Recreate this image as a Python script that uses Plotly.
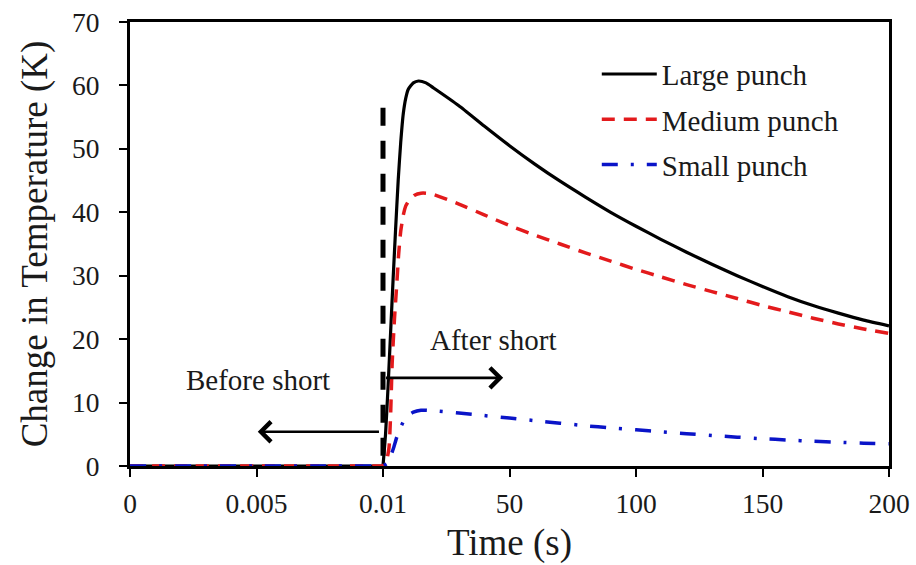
import plotly.graph_objects as go

# ---------------- data ----------------
# Before the short (time in s, 0 .. 0.01)
before_time = [0, 0.0025, 0.005, 0.0075, 0.01]
before_large = [0, 0, 0, 0, 0]
before_medium = [0, 0, 0, 0, 0]
before_small = [0, 0, 0, 0, 0]

# After the short (time in s, 0 .. 200)
large_time = [0, 1, 2, 3, 4, 5, 6, 7, 8, 9, 10, 12, 14, 17, 20, 30, 40, 50, 60, 70, 80,
              90, 100, 110, 120, 130, 140, 150, 160, 170, 180, 190, 200]
large_dT = [0, 5, 12.5, 21, 29.5, 37.5, 45, 51, 55.5, 58, 59.4, 60.4, 60.7, 60.4, 59.6,
            56.8, 53.6, 50.5, 47.6, 44.9, 42.4, 40.0, 37.8, 35.7, 33.7, 31.8, 30.0, 28.3,
            26.7, 25.3, 24.1, 23.0, 22.1]

medium_time = [0, 1.5, 2.4, 3, 3.6, 4.5, 5.5, 6.2, 7, 8, 9, 10.5, 12.5, 15, 17, 20, 30, 40,
               50, 60, 70, 80, 90, 100, 110, 120, 130, 140, 150, 160, 170, 180, 190, 200]
medium_dT = [0, 1, 3, 8, 16, 23, 29, 33.5, 37, 39.5, 41, 42, 42.7, 43, 43, 42.8, 41.3, 39.6,
             37.9, 36.4, 35.0, 33.6, 32.3, 31.0, 29.8, 28.6, 27.5, 26.4, 25.3, 24.3, 23.3,
             22.4, 21.6, 20.9]

small_time = [0, 2, 3, 4.3, 5.5, 7, 9, 12, 15, 20, 30, 40, 50, 60, 70, 80, 90, 100, 110,
              120, 130, 140, 150, 160, 170, 180, 190, 200]
small_dT = [0, 0.5, 1.5, 3, 4.6, 6.1, 7.7, 8.5, 8.8, 8.7, 8.35, 7.95, 7.55, 7.15, 6.75, 6.35,
            6.0, 5.7, 5.4, 5.1, 4.8, 4.55, 4.3, 4.1, 3.9, 3.75, 3.6, 3.5]

series_names = ["Large punch", "Medium punch", "Small punch"]
x_tick_labels = ["0", "0.005", "0.01", "50", "100", "150", "200"]
y_ticks = [0, 10, 20, 30, 40, 50, 60, 70]

short_time = 0.01        # instant of the short
short_line_top = 56.5    # top of the dashed marker line (K)

# ---------------- broken time axis mapping ----------------
BEFORE_SPAN = 0.005   # seconds per tick interval before the short
AFTER_SPAN = 50.0     # seconds per tick interval after the short
N_BEFORE = 2          # tick intervals before the short


def pos_before(t):
    return t / BEFORE_SPAN


def pos_after(t):
    return N_BEFORE + t / AFTER_SPAN


tick_vals = [pos_before(v) for v in (0, 0.005, 0.01)] + [pos_after(v) for v in (50, 100, 150, 200)]

FONT = "Liberation Serif"
TXT = "#1a1a1a"

styles = [
    dict(color="black", width=3.2, dash="solid"),
    dict(color="#e31a1c", width=3.5, dash="13px,9px"),
    dict(color="#0a14c8", width=3.5, dash="16px,13px,3px,13px"),
]

afters = [(large_time, large_dT), (medium_time, medium_dT), (small_time, small_dT)]
befores = [before_large, before_medium, before_small]

fig = go.Figure()
for name, st, (ta, va), vb in zip(series_names, styles, afters, befores):
    xs = [pos_before(t) for t in before_time] + [pos_after(t) for t in ta]
    ys = list(vb) + list(va)
    fig.add_trace(go.Scatter(
        x=xs, y=ys, mode="lines", name=name,
        line=dict(color=st["color"], width=st["width"], dash=st["dash"],
                  shape="spline", smoothing=0.5),
        legendgroup=name,
    ))

# dashed marker line at the short (drawn top-down so the pattern starts at the top)
fig.add_trace(go.Scatter(
    x=[pos_before(short_time), pos_before(short_time)], y=[short_line_top, 0],
    mode="lines", line=dict(color="black", width=5, dash="18px,15px"),
    showlegend=False, hoverinfo="skip",
))

annots = [
    # Before-short arrow (pointing left)
    dict(x=pos_before(0.00505), y=5.4, ax=pos_before(0.0099), ay=5.4),
    # After-short arrow (pointing right)
    dict(x=pos_after(47.5), y=13.9, ax=pos_after(0.6), ay=13.9),
]
for a in annots:
    fig.add_annotation(x=a["x"], y=a["y"], ax=a["ax"], ay=a["ay"],
                       xref="x", yref="y", axref="x", ayref="y",
                       showarrow=True, arrowhead=4, arrowsize=1.5, arrowwidth=2.6,
                       arrowcolor="black", text="")

fig.add_annotation(x=pos_before(0.00505), y=13.6, xref="x", yref="y", text="Before short",
                   showarrow=False, font=dict(family=FONT, size=29, color=TXT))
fig.add_annotation(x=pos_after(43.5), y=19.9, xref="x", yref="y", text="After short",
                   showarrow=False, font=dict(family=FONT, size=29, color=TXT))

fig.update_layout(
    width=916, height=565,
    margin=dict(l=130, r=27, t=22, b=99, autoexpand=False),
    paper_bgcolor="white", plot_bgcolor="white",
    font=dict(family=FONT, color=TXT),
    showlegend=True,
    legend=dict(x=0.615, y=0.94, xanchor="left", yanchor="top",
                bgcolor="rgba(0,0,0,0)", font=dict(family=FONT, size=29, color=TXT),
                tracegroupgap=4.5, itemwidth=55),
    xaxis=dict(
        range=[0, pos_after(200)], tickmode="array", tickvals=tick_vals, ticktext=x_tick_labels,
        showgrid=False, zeroline=False, showline=True, linecolor="black", linewidth=3,
        mirror=True, ticks="outside", ticklen=8, tickwidth=1.5, tickcolor="black",
        tickfont=dict(family=FONT, size=27.5, color=TXT), ticklabelstandoff=3, automargin=False,
        title=dict(text="Time (s)", font=dict(family=FONT, size=37, color=TXT), standoff=12),
    ),
    yaxis=dict(
        range=[0, 70], tickmode="array", tickvals=y_ticks,
        showgrid=False, zeroline=False, showline=True, linecolor="black", linewidth=3,
        mirror=True, ticks="outside", ticklen=8, tickwidth=1.5, tickcolor="black",
        tickfont=dict(family=FONT, size=27.5, color=TXT), ticklabelstandoff=14, automargin=False,
        title=dict(text="Change in Temperature (K)", font=dict(family=FONT, size=37, color=TXT), standoff=14),
    ),
)

fig.write_html("out.html")
